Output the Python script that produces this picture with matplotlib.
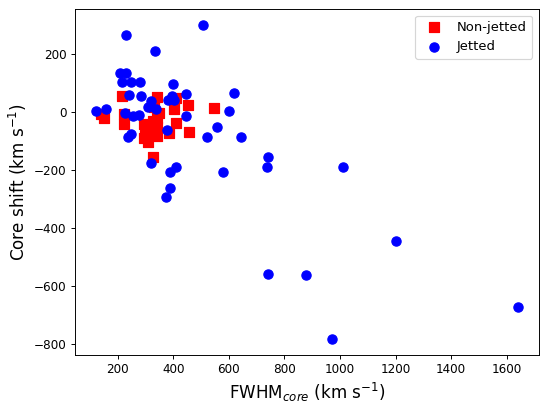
import matplotlib
matplotlib.use("Agg")
import matplotlib.pyplot as plt

# Jetted sources (blue circles): FWHM_core, core shift (km/s)
jet_fwhm = [505, 230, 335, 208, 230, 217, 247, 280, 400, 240, 284, 446, 620,
            396, 382, 402, 320, 308, 336, 122, 157, 600, 226, 256, 278, 446,
            556, 376, 236, 247, 520, 643, 319, 742, 737, 409, 388, 578, 388,
            373, 1010, 1200, 878, 1640, 970, 740]
jet_shift = [300, 265, 208, 133, 133, 101, 101, 101, 95, 59, 54, 61, 64,
             56, 41, 41, 37, 17, 8, 2, 10, 1, -4, -16, -10, -14,
             -53, -64, -86, -77, -88, -86, -177, -155, -192, -190, -209, -209, -261,
             -292, -192, -445, -564, -672, -784, -560]

# Non-jetted sources (red squares)
nj_fwhm = [214, 340, 410, 454, 545, 402, 224, 138, 152, 224, 349, 341, 293,
           316, 341, 328, 298, 322, 310, 341, 408, 458, 385, 328, 330, 293]
nj_shift = [55, 52, 48, 25, 12, 9, -7, -8, -22, -43, -5, -22, -43,
            -51, -51, -33, -79, -79, -105, -85, -39, -70, -72, -155, 18, -91]

fig = plt.figure(figsize=(550 / 86, 408 / 86), dpi=86)
ax = fig.add_axes([75 / 550, 53 / 408, 464 / 550, 346 / 408])

ax.scatter(nj_fwhm, nj_shift, marker='s', s=60, color='red', label='Non-jetted')
ax.scatter(jet_fwhm, jet_shift, marker='o', s=60, color='blue', label='Jetted')

ax.set_xlabel(r'FWHM$_{core}$ (km s$^{-1}$)', fontsize=14)
ax.set_ylabel(r'Core shift (km s$^{-1}$)', fontsize=14)
ax.tick_params(labelsize=10)
ax.legend(loc='upper right', fontsize=11)

fig.savefig('out.png', dpi=86)
